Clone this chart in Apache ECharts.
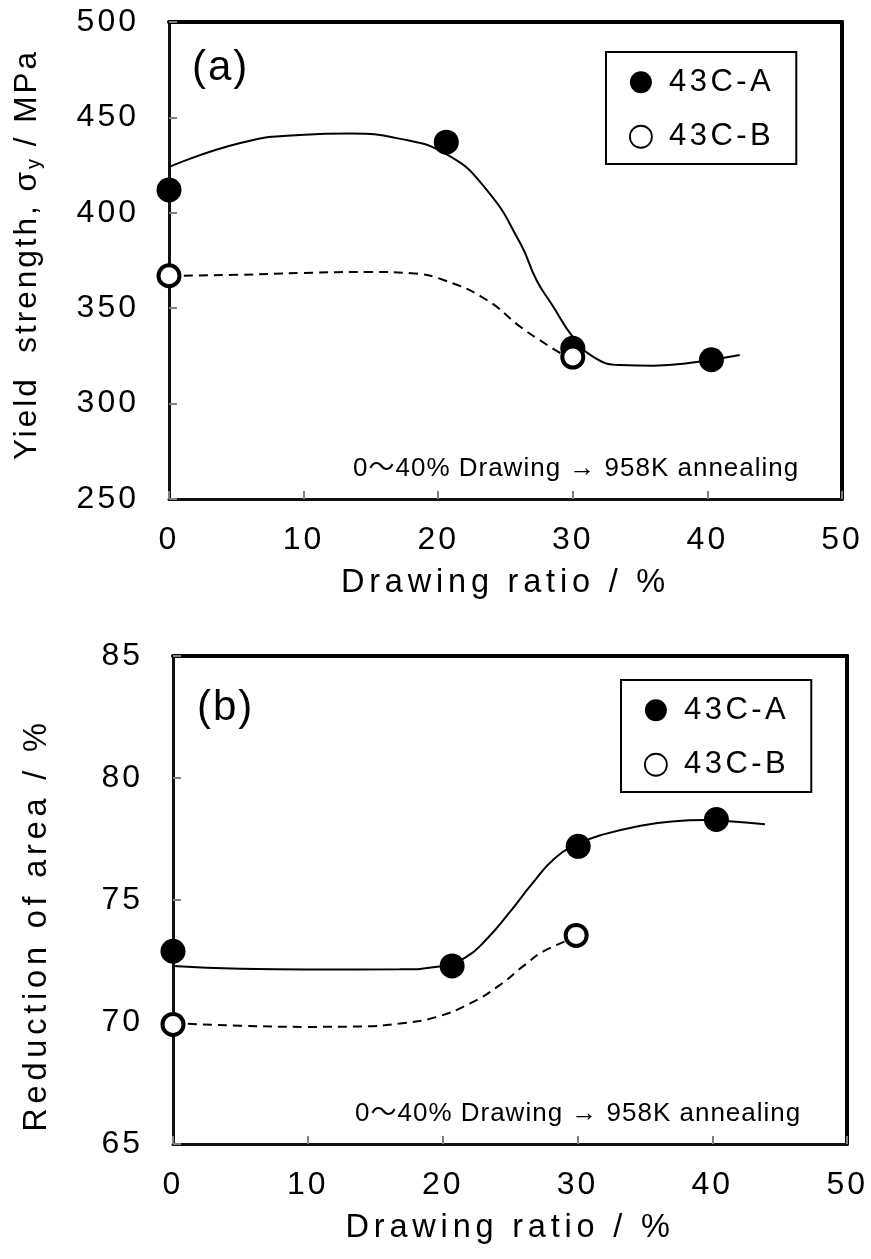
<!DOCTYPE html>
<html><head><meta charset="utf-8">
<script src="https://cdn.jsdelivr.net/npm/echarts@6/dist/echarts.min.js"></script>
<style>html,body{margin:0;padding:0;background:#fff}#c{width:871px;height:1259px}</style>
</head><body><div id="c"></div>
<script>
// ---------- data ----------
const xTicks = [0, 10, 20, 30, 40, 50];
const yieldTicks = [250, 300, 350, 400, 450, 500];
const raTicks = [65, 70, 75, 80, 85];
const seriesNames = ['43C-A', '43C-B'];

// (a) yield strength
const yieldA_x = [0, 20.6, 30, 40.3];
const yieldA_y = [412, 437, 329, 323];
const yieldB_x = [0, 30];
const yieldB_y = [367, 324.4];
const yieldCurveA_x = [0, 5.3, 9.7, 13.5, 17, 20.7, 23.6, 26.1, 27.3, 28.55, 30, 31.5, 33.5, 36, 38.5, 42.4];
const yieldCurveA_y = [424, 436.6, 440.8, 441.5, 439, 430.3, 412, 384, 364.8, 350.8, 335, 324.6, 320.2, 319.9, 321.1, 325.5];
const yieldCurveB_x = [0, 5, 10, 15, 18, 20.5, 23.6, 26.1, 28.1, 29.3];
const yieldCurveB_y = [367, 367.5, 368.5, 369, 368.3, 364.5, 354.3, 340.3, 330.7, 325.5];

// (b) reduction of area
const raA_x = [0, 20.7, 30.05, 40.3];
const raA_y = [72.9, 72.3, 77.2, 78.3];
const raB_x = [0, 29.9];
const raB_y = [69.9, 73.55];
const raCurveA_x = [0, 5, 10, 16.8, 19.75, 21.7, 23.2, 24.9, 26.65, 28.3, 30.05, 32, 34.5, 37, 39.5, 41.5, 43.9];
const raCurveA_y = [72.3, 72.18, 72.15, 72.16, 72.27, 72.65, 73.36, 74.45, 75.68, 76.7, 77.3, 77.7, 78.02, 78.22, 78.28, 78.22, 78.1];
const raCurveB_x = [0, 5, 10, 14, 17, 19.5, 22, 24.2, 26, 27.5, 29.8];
const raCurveB_y = [69.95, 69.85, 69.8, 69.82, 69.95, 70.2, 70.75, 71.5, 72.3, 72.9, 73.45];

const panelLabels = ['(a)', '(b)'];
const note = '0〜40% Drawing → 958K annealing';
const xName = 'Drawing ratio / %';
const yNameA = 'Yield  strength, σ{sub|y} / MPa';
const yNameB = 'Reduction of area / %';

// ---------- letter spacing (keyed by font size) ----------
const FONT = "'Liberation Sans', Arial, 'Noto Sans CJK JP', sans-serif";
const SPACING = {32: 3, 32.5: 4.8, 31.5: 3, 31: 3.5, 20: 1, 26: 1, 42: 2};
function spacingFor(font) {
  const m = /([\d.]+)px/.exec(font || '');
  if (!m) return 0;
  return SPACING[parseFloat(m[1])] || 0;
}
const mctx = document.createElement('canvas').getContext('2d');
echarts.setPlatformAPI({
  measureText(text, font) {
    mctx.font = font || '12px sans-serif';
    const m = mctx.measureText(text);
    return {
      width: m.width + spacingFor(font) * (text ? text.length : 0),
      actualBoundingBoxAscent: m.actualBoundingBoxAscent,
      actualBoundingBoxDescent: m.actualBoundingBoxDescent,
      actualBoundingBoxLeft: m.actualBoundingBoxLeft,
      actualBoundingBoxRight: m.actualBoundingBoxRight,
      fontBoundingBoxAscent: m.fontBoundingBoxAscent,
      fontBoundingBoxDescent: m.fontBoundingBoxDescent
    };
  }
});
const origFill = CanvasRenderingContext2D.prototype.fillText;
CanvasRenderingContext2D.prototype.fillText = function (t, x, y, mw) {
  try { this.letterSpacing = spacingFor(this.font) + 'px'; } catch (e) {}
  return mw === undefined ? origFill.call(this, t, x, y) : origFill.call(this, t, x, y, mw);
};

// ---------- helpers ----------
const zip = (xs, ys) => xs.map((x, i) => [x, ys[i]]);
const txt = (size, extra) => Object.assign({fontFamily: FONT, fontSize: size, color: '#000', fontWeight: 'normal'}, extra || {});

function mainX(gi, nameGap, labelMargin) {
  return {
    type: 'value', gridIndex: gi, position: 'bottom',
    min: xTicks[0], max: xTicks[xTicks.length - 1], interval: xTicks[1] - xTicks[0],
    name: xName, nameLocation: 'middle', nameGap: nameGap,
    nameTextStyle: txt(32.5),
    axisLine: {show: true, onZero: false, lineStyle: {color: '#111', width: 3}},
    axisTick: {show: true, inside: true, length: 8, lineStyle: {color: '#808080', width: 2}},
    axisLabel: Object.assign({margin: labelMargin, showMinLabel: true, showMaxLabel: true}, txt(32)),
    splitLine: {show: false}
  };
}
function mainY(gi, ticks, name, nameGap, nameStyle) {
  return {
    type: 'value', gridIndex: gi, position: 'left',
    min: ticks[0], max: ticks[ticks.length - 1], interval: ticks[1] - ticks[0],
    name: name, nameLocation: 'middle', nameGap: nameGap, nameRotate: 90,
    nameTextStyle: nameStyle,
    axisLine: {show: true, onZero: false, lineStyle: {color: '#111', width: 3}},
    axisTick: {show: true, inside: true, length: 8, lineStyle: {color: '#808080', width: 2}},
    axisLabel: Object.assign({margin: 30}, txt(32)),
    splitLine: {show: false}
  };
}
function borderX(gi) {
  return {type: 'value', gridIndex: gi, position: 'top', min: xTicks[0], max: xTicks[xTicks.length - 1],
    axisLine: {show: true, onZero: false, lineStyle: {color: '#000', width: 4}},
    axisTick: {show: false}, axisLabel: {show: false}, splitLine: {show: false}};
}
function borderY(gi, ticks) {
  return {type: 'value', gridIndex: gi, position: 'right', min: ticks[0], max: ticks[ticks.length - 1],
    axisLine: {show: true, onZero: false, lineStyle: {color: '#000', width: 4}},
    axisTick: {show: false}, axisLabel: {show: false}, splitLine: {show: false}};
}
function curve(xi, yi, xs, ys, dashed) {
  return {type: 'line', xAxisIndex: xi, yAxisIndex: yi, data: zip(xs, ys), smooth: 0.5,
    symbol: 'none', silent: true, z: 2,
    lineStyle: {color: '#000', width: 2, type: dashed ? [9, 6] : 'solid'}};
}
function pointsA(xi, yi, xs, ys) {
  return {type: 'scatter', name: seriesNames[0], xAxisIndex: xi, yAxisIndex: yi, data: zip(xs, ys),
    symbol: 'circle', symbolSize: 25, z: 3, itemStyle: {color: '#000', opacity: 1}};
}
function pointsB(xi, yi, xs, ys) {
  return {type: 'scatter', name: seriesNames[1], xAxisIndex: xi, yAxisIndex: yi, data: zip(xs, ys),
    symbol: 'circle', symbolSize: 21, z: 4,
    itemStyle: {color: '#fff', borderColor: '#000', borderWidth: 4, opacity: 1}};
}
function legendAt(left, top) {
  return {
    left: left, top: top, orient: 'vertical', selectedMode: false,
    data: [{name: seriesNames[0], icon: 'circle'},
           {name: seriesNames[1], icon: 'circle', itemStyle: {color: '#fff', borderColor: '#000', borderWidth: 1.8}}],
    itemWidth: 46, itemHeight: 22, itemGap: 20, padding: [13, 22, 10, 23],
    borderColor: '#000', borderWidth: 2, backgroundColor: '#fff',
    textStyle: txt(31, {lineHeight: 34})
  };
}

const yNameStyleA = txt(31.5, {lineHeight: 36, padding: [0, 0, 0, 12],
  rich: {sub: {fontFamily: FONT, fontSize: 20, color: '#000', lineHeight: 20, padding: [14, 0, 0, 0]}}});
const yNameStyleB = txt(32.5, {padding: [0, 50, 0, 0]});

const option = {
  animation: false,
  backgroundColor: '#fff',
  grid: [
    {left: 169, top: 22, width: 673, height: 477, show: false},
    {left: 173, top: 656, width: 676, height: 488, show: false}
  ],
  xAxis: [mainX(0, 65, 24), mainX(1, 65, 24), borderX(0), borderX(1)],
  yAxis: [mainY(0, yieldTicks, yNameA, 124, yNameStyleA), mainY(1, raTicks, yNameB, 117, yNameStyleB), borderY(0, yieldTicks), borderY(1, raTicks)],
  legend: [legendAt(606, 52), legendAt(621, 680)],
  title: [
    {text: panelLabels[0], left: 192, top: 46, padding: 0, textStyle: txt(42)},
    {text: panelLabels[1], left: 197, top: 686, padding: 0, textStyle: txt(42)},
    {text: note, left: 353, top: 455, padding: 0, textStyle: txt(26)},
    {text: note, left: 355, top: 1100, padding: 0, textStyle: txt(26)}
  ],
  series: [
    curve(0, 0, yieldCurveA_x, yieldCurveA_y, false),
    curve(0, 0, yieldCurveB_x, yieldCurveB_y, true),
    pointsA(0, 0, yieldA_x, yieldA_y),
    pointsB(0, 0, yieldB_x, yieldB_y),
    curve(1, 1, raCurveA_x, raCurveA_y, false),
    curve(1, 1, raCurveB_x, raCurveB_y, true),
    pointsA(1, 1, raA_x, raA_y),
    pointsB(1, 1, raB_x, raB_y)
  ]
};
const chart = echarts.init(document.getElementById('c'), null, {renderer: 'canvas'});
chart.setOption(option);
</script>
</body></html>
